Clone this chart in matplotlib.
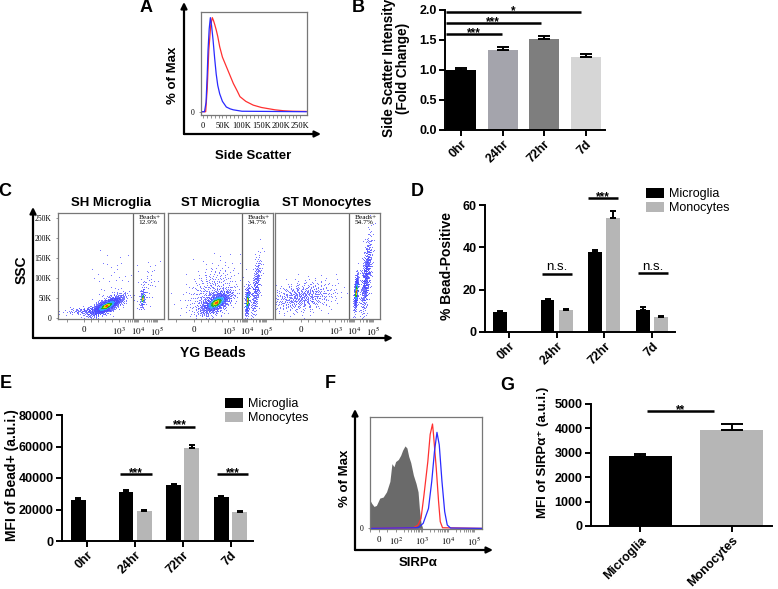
import numpy as np
import matplotlib
matplotlib.use("Agg")
import matplotlib.pyplot as plt
from matplotlib.scale import SymmetricalLogTransform

plt.rcParams['font.family'] = ['Liberation Sans', 'DejaVu Sans']
plt.rcParams['mathtext.fontset'] = 'stix'

W, H = 778, 589

# ---- data ----
timepoints = ['0hr', '24hr', '72hr', '7d']
cell_types = ['Microglia', 'Monocytes']

# A: side scatter histograms (x in K, % of max)
a_red_x = [-5, 7, 11, 15, 20, 24, 27, 30, 34, 38, 43, 50, 60, 70, 78, 88, 95, 110, 129, 150, 164, 185, 207, 230, 265]
a_red_y = [0, 0, 25, 65, 92, 100, 97, 93, 87, 80, 69, 58, 48, 38, 30, 22, 16, 11, 7, 4.5, 3.5, 2, 1, 0.5, 0.3]
a_blue_x = [-5, 4, 8, 11, 13, 16, 19, 22, 26, 30, 34, 38, 43, 50, 60, 70, 78, 100, 265]
a_blue_y = [0, 0, 10, 40, 65, 88, 100, 92, 76, 57, 40, 28, 19, 11, 5, 3, 2, 0.5, 0]

# B: side scatter fold change
ssc_fold = [1.00, 1.34, 1.52, 1.21]
ssc_err = [0.03, 0.05, 0.05, 0.06]
ssc_colors = ['#000000', '#a4a4ac', '#7e7e7e', '#d6d6d6']

# C: flow dot plots, clouds as (x centre, y centre, x spread [decades], y spread, corr, n, dense)
c_titles = ['SH Microglia', 'ST Microglia', 'ST Monocytes']
c_bead_pct = ['12.9%', '34.7%', '54.7%']
c_gate = 5500
sh_micro_clouds = [
    (650, 30e3, 0.45, 13e3, 0.75, 1100, True),
    (120, 18e3, 0.6, 5e3, 0.3, 150, False),
    (18000, 48e3, 0.08, 13e3, 0.3, 110, True),
    (30000, 80e3, 0.30, 30e3, 0.5, 50, False),
    (800, 90e3, 0.6, 40e3, 0.2, 50, False),
]
st_micro_clouds = [
    (650, 38e3, 0.45, 16e3, 0.6, 800, True),
    (500, 65e3, 0.7, 35e3, 0.4, 350, False),
    (10500, 42e3, 0.07, 20e3, 0.4, 250, True),
    (30000, 75e3, 0.14, 40e3, 0.6, 300, False),
]
st_mono_clouds = [
    (50, 52e3, 0.9, 20e3, 0.3, 550, False),
    (13000, 65e3, 0.06, 22e3, 0.5, 420, True),
    (45000, 105e3, 0.15, 48e3, 0.6, 600, False),
]

# D: % bead-positive
pct_micro = [9.3, 15.2, 38.0, 10.6]
pct_micro_err = [0.5, 0.6, 0.6, 1.4]
pct_mono = [np.nan, 10.4, 54.0, 7.2]
pct_mono_err = [0, 0.6, 3.0, 0.5]

# E: MFI of bead+
mfi_micro = [26000, 30900, 35500, 27900]
mfi_micro_err = [1200, 1200, 600, 400]
mfi_mono = [np.nan, 19000, 58800, 18400]
mfi_mono_err = [0, 500, 2200, 500]

# F: SIRPa histograms (raw fluorescence, % of max)
f_gray_x = [-52, -42, -28, -14, 6, 26, 46, 66, 78, 90, 100, 127, 156, 186, 228, 270, 316, 378, 477, 603, 720, 808, 936, 1086]
f_gray_y = [27, 24, 21, 22, 29, 30, 35, 45, 62, 59, 64, 66, 70, 75, 79, 77, 69, 63, 51, 43, 35, 19, 5, 0]
f_red_x = [-52, 477, 720, 936, 1213, 1700, 2090, 2570, 2800, 3560, 4370, 5080, 6200, 200000]
f_red_y = [0, 0.6, 3.2, 9.6, 32, 64, 90, 100, 90, 58, 26, 6.4, 0.6, 0]
f_blue_x = [-52, 720, 1130, 1800, 2400, 3060, 3800, 4650, 5900, 7500, 9400, 12600, 200000]
f_blue_y = [0, 0.6, 4.8, 19, 45, 74, 92, 80, 45, 16, 3.2, 0.3, 0]

# G: MFI of SIRPa+
sirpa_mfi = [2870, 3920]
sirpa_err = [70, 260]
micro_color, mono_color = '#000000', '#b6b6b6'

fig = plt.figure(figsize=(W / 100, H / 100), dpi=100)


def rect(l, t, r, b):
    return [l / W, 1 - b / H, (r - l) / W, (b - t) / H]


# overlay in pixel coordinates for letters, arrows and free labels
ov = fig.add_axes([0, 0, 1, 1])
ov.set_xlim(0, W)
ov.set_ylim(H, 0)
ov.axis('off')


def arrow(x0, y0, x1, y1):
    ov.annotate('', xy=(x1, y1), xytext=(x0, y0),
                arrowprops=dict(arrowstyle='-|>', lw=1.6, color='k',
                                mutation_scale=9, shrinkA=0, shrinkB=0))


def label(x, y, s, size=9.5, rot=0, weight='bold', **kw):
    ov.text(x, y, s, fontsize=size, rotation=rot, fontweight=weight,
            ha='center', va='center', **kw)


for letter, x, y in [('A', 146, 8), ('B', 358, 8), ('C', 5, 192), ('D', 417, 192),
                     ('E', 6, 383), ('F', 330, 383), ('G', 507, 385)]:
    label(x, y, letter, size=13)

arrow(184, 134, 184, 2)
arrow(184, 134, 321, 134)
label(173, 75, '% of Max', rot=90)
label(253, 156, 'Side Scatter')

arrow(33, 338, 33, 207)
arrow(33, 338, 393, 338)
label(22, 270, 'SSC', size=10, rot=90)
label(213, 353, 'YG Beads', size=10)

arrow(355, 550, 355, 409)
arrow(355, 550, 493, 550)
label(345, 478, '% of Max', rot=90)
label(418, 563, 'SIRPα')

label(396, 68, 'Side Scatter Intensity\n(Fold Change)', size=9.8, rot=90, linespacing=1.05)
label(447, 266, '% Bead-Positive', size=10, rot=90)
label(12, 475, 'MFI of Bead+ (a.u.i.)', size=10, rot=90)
label(543, 452, 'MFI of SIRPα⁺ (a.u.i.)', size=9.5, rot=90)


def bar_axes(r, xlim, ylim, yticks, ylabels):
    ax = fig.add_axes(rect(*r))
    ax.set_xlim(*xlim)
    ax.set_ylim(*ylim)
    ax.set_yticks(yticks, ylabels, fontweight='bold')
    ax.spines[['top', 'right']].set_visible(False)
    ax.spines[['left', 'bottom']].set_linewidth(1.4)
    ax.tick_params(width=1.4, length=4, labelsize=9, pad=2)
    ax.patch.set_alpha(0)
    return ax


def bars(ax, x, h, err, color, width, cap):
    h = np.asarray(h, float)
    x = np.asarray(x, float)
    ok = ~np.isnan(h)
    e = np.asarray(err, float)[ok]
    return ax.bar(x[ok], h[ok], width, color=color, yerr=[np.zeros_like(e), e],
                  error_kw=dict(ecolor='k', elinewidth=1.4, capsize=cap, capthick=1.4))


def sig(ax, x0, x1, y, text, dy=-1.2, size=8.5, weight='bold'):
    ax.plot([x0, x1], [y, y], color='k', lw=1.8, clip_on=False, solid_capstyle='butt')
    ax.annotate(text, ((x0 + x1) / 2, y), xytext=(0, dy), textcoords='offset points',
                ha='center', va='baseline', fontsize=size, fontweight=weight,
                annotation_clip=False)


def time_xticks(ax, names):
    ax.set_xticks(range(len(names)), names, rotation=45, ha='right',
                  rotation_mode='anchor', fontweight='bold')


def flow_style(ax):
    ax.tick_params(which='both', length=1.8, width=0.5, color='#666', pad=3)
    for s in ax.spines.values():
        s.set_color('#777')
        s.set_linewidth(0.9)


# ---- A ----
axA = fig.add_axes(rect(201, 12, 307, 115))
axA.plot(a_red_x, a_red_y, color='#ff3030', lw=0.9)
axA.plot(a_blue_x, a_blue_y, color='#2a2aff', lw=0.9)
axA.set_xlim(-5, 267)
axA.set_ylim(-3.5, 106)
axA.set_xticks([0, 50, 100, 150, 200, 250], ['0', '50K', '100K', '150K', '200K', '250K'],
               fontfamily='Liberation Serif', fontsize=6)
axA.set_yticks([0], ['0'], fontfamily='Liberation Serif', fontsize=5.5)
axA.set_xticks(np.arange(10, 260, 10), minor=True)
flow_style(axA)

# ---- B ----
axB = bar_axes((445, 10, 605, 130), (-0.38, 3.46), (0, 2.0),
               [0, 0.5, 1.0, 1.5, 2.0], ['0.0', '0.5', '1.0', '1.5', '2.0'])
for i, (v, e, c) in enumerate(zip(ssc_fold, ssc_err, ssc_colors)):
    bars(axB, [i], [v], [e], c, 0.72, 4)
time_xticks(axB, timepoints)
sig(axB, -0.36, 0.98, 1.60, '***')
sig(axB, -0.36, 1.92, 1.78, '***')
sig(axB, -0.36, 2.88, 1.96, '*')

# ---- C ----
c_tr = SymmetricalLogTransform(10, 1000, 1.66)


def cloud(cx, cy, sx, sy, corr, n, shift):
    k = np.arange(1, n + 1)
    u = (shift + k * 0.7548776662466927) % 1.0
    v = (shift * 1.618 + k * 0.5698402909980532) % 1.0
    r = np.sqrt(-2.0 * np.log(1.0 - 0.998 * u))
    ga, gb = r * np.cos(2 * np.pi * v), r * np.sin(2 * np.pi * v)
    ux = c_tr.transform(np.array([cx], float))[0] + sx * 1000 * ga
    x = c_tr.inverted().transform(ux)
    y = cy + sy * (corr * ga + np.sqrt(1 - corr ** 2) * gb)
    return x, y, r


def dot_colors(r, dense):
    if not dense:
        return np.full(len(r), '#4848ff')
    return np.select([r < 0.18, r < 0.35, r < 0.6, r < 0.9],
                     ['#ff4000', '#e8d800', '#20b020', '#30a0ff'], '#4848ff')


c_boxes = [(58, 213, 164, 319), (168, 213, 273, 319), (275, 213, 380, 319)]
c_title_x = [111, 220, 327]
for j, (box, clouds) in enumerate(zip(c_boxes, [sh_micro_clouds, st_micro_clouds, st_mono_clouds])):
    ax = fig.add_axes(rect(*box))
    ax.set_xscale('symlog', linthresh=1000, linscale=1.66)
    ax.set_xlim(-743, 2.34e5)
    ax.set_ylim(-2500, 262500)
    xs, ys, cs, rs = [], [], [], []
    for m, (cx, cy, sx, sy, corr, n, dense) in enumerate(clouds):
        x, y, r = cloud(cx, cy, sx, sy, corr, n, 0.13 * (m + 1) + 0.29 * j)
        xs.append(x)
        ys.append(y)
        cs.append(dot_colors(r, dense))
        rs.append(r if dense else np.full(n, 9.0))
    xs, ys, cs, rs = map(np.concatenate, (xs, ys, cs, rs))
    order = np.argsort(-rs)
    ax.scatter(xs[order], ys[order], c=cs[order], s=0.5, marker='s', linewidths=0, alpha=0.75)
    ax.axvline(c_gate, color='#666', lw=0.9)
    ax.text(0.76, 0.985, 'Beads+\n' + c_bead_pct[j], transform=ax.transAxes, ha='left', va='top',
            fontsize=5.3, fontfamily='Liberation Serif', linespacing=1.0)
    ax.set_xticks([0, 1e3, 1e4, 1e5], ['0', '$10^3$', '$10^4$', '$10^5$'],
                  fontfamily='Liberation Serif', fontsize=6.5)
    ax.set_xticks([-500, 200, 400, 600, 800] + [k * 10 ** d for d in (3, 4) for k in range(2, 10)],
                  minor=True)
    if j == 0:
        ax.set_yticks(np.arange(0, 260000, 50000), ['0', '50K', '100K', '150K', '200K', '250K'],
                      fontfamily='Liberation Serif', fontsize=5.5)
    else:
        ax.set_yticks([])
    flow_style(ax)
    label(c_title_x[j], 203, c_titles[j], size=9.5)

# ---- D ----
axD = bar_axes((485, 205, 675, 332), (-0.5, 3.48), (0, 60), [0, 20, 40, 60], ['0', '20', '40', '60'])
xt = np.arange(len(timepoints))
hD1 = bars(axD, xt - 0.19, pct_micro, pct_micro_err, micro_color, 0.29, 2.5)
hD2 = bars(axD, xt + 0.19, pct_mono, pct_mono_err, mono_color, 0.29, 2.5)
time_xticks(axD, timepoints)
sig(axD, 0.69, 1.32, 27.4, 'n.s.', dy=2.6, size=9.5, weight='normal')
sig(axD, 1.65, 2.28, 63.3, '***')
sig(axD, 2.71, 3.33, 27.7, 'n.s.', dy=2.6, size=9.5, weight='normal')
axD.legend([hD1, hD2], cell_types, loc='upper left', bbox_to_anchor=(646 / W, 1 - 188 / H),
           bbox_transform=fig.transFigure, frameon=False, fontsize=9, handlelength=1.4,
           handleheight=0.8, handletextpad=0.4, labelspacing=0.15, borderpad=0, borderaxespad=0)

# ---- E ----
axE = bar_axes((62, 415, 253, 541), (-0.53, 3.47), (0, 80000), [0, 20000, 40000, 60000, 80000],
               ['0', '20000', '40000', '60000', '80000'])
hE1 = bars(axE, xt - 0.19, mfi_micro, mfi_micro_err, micro_color, 0.31, 2.5)
hE2 = bars(axE, xt + 0.19, mfi_mono, mfi_mono_err, mono_color, 0.31, 2.5)
time_xticks(axE, timepoints)
sig(axE, 0.68, 1.35, 42500, '***')
sig(axE, 1.62, 2.25, 72600, '***')
sig(axE, 2.72, 3.37, 42500, '***')
axE.legend([hE1, hE2], cell_types, loc='upper left', bbox_to_anchor=(225 / W, 1 - 398 / H),
           bbox_transform=fig.transFigure, frameon=False, fontsize=9, handlelength=1.4,
           handleheight=0.8, handletextpad=0.4, labelspacing=0.15, borderpad=0, borderaxespad=0)

# ---- F ----
axF = fig.add_axes(rect(370, 417, 482, 529))
axF.set_xscale('symlog', linthresh=100, linscale=0.58)
axF.fill_between(f_gray_x, f_gray_y, 0, color='#6a6a6a', lw=0)
axF.plot(f_red_x, f_red_y, color='#ff3030', lw=0.9)
axF.plot(f_blue_x, f_blue_y, color='#2a2aff', lw=0.9)
axF.set_xlim(-52, 2.0e5)
axF.set_ylim(-0.6, 106.7)
axF.set_xticks([0, 1e2, 1e3, 1e4, 1e5], ['0', '$10^2$', '$10^3$', '$10^4$', '$10^5$'],
               fontfamily='Liberation Serif', fontsize=6.5)
axF.set_xticks([-50, 50] + [k * 10 ** d for d in (2, 3, 4) for k in range(2, 10)], minor=True)
axF.set_yticks([0], ['0'], fontfamily='Liberation Serif', fontsize=5.5)
flow_style(axF)

# ---- G ----
axG = bar_axes((591, 404, 772, 526), (-0.54, 1.44), (0, 5000), [0, 1000, 2000, 3000, 4000, 5000],
               ['0', '1000', '2000', '3000', '4000', '5000'])
bars(axG, [0], [sirpa_mfi[0]], [sirpa_err[0]], micro_color, 0.69, 4)
bars(axG, [1], [sirpa_mfi[1]], [sirpa_err[1]], mono_color, 0.69, 8)
time_xticks(axG, cell_types)
sig(axG, 0.07, 0.81, 4700, '**')

fig.savefig('out.png', dpi=100)
